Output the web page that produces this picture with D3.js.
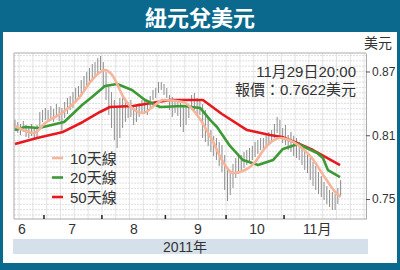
<!DOCTYPE html>
<html>
<head>
<meta charset="utf-8">
<script src="https://cdn.jsdelivr.net/npm/d3@7"></script>
<style>
  body { margin: 0; background: #fff; }
  text { font-family: "Liberation Sans", "Noto Sans CJK TC", sans-serif; }
</style>
</head>
<body>
<div id="chart"></div>
<script>
// daily high / low, trading days 16 Jun - 29 Nov 2011
var highs = [0.8244,0.8225,0.8206,0.8234,0.8197,0.8187,0.8206,0.8168,0.8197,0.8319,0.8338,
  0.8357,0.8338,0.8375,0.8347,0.8394,0.8366,0.8357,0.8413,0.8451,0.8469,0.8507,0.8545,0.8564,0.8620,0.8658,0.8695,0.8733,0.8771,0.8789,0.8827,0.8846,
  0.8789,0.8695,0.8573,0.8507,0.8432,0.8357,0.8451,0.8469,0.8451,0.8413,0.8432,0.8385,0.8394,0.8404,0.8432,0.8432,0.8413,0.8469,0.8526,0.8545,0.8601,0.8601,0.8582,
  0.8545,0.8479,0.8460,0.8432,0.8413,0.8404,0.8375,0.8366,0.8375,0.8479,0.8498,0.8451,0.8432,0.8394,0.8338,0.8262,0.8150,0.8093,0.8074,0.8037,0.8008,0.7914,
  0.7792,0.7773,0.7830,0.7886,0.7905,0.7914,0.7943,0.7961,0.7980,0.7999,0.8037,0.8055,0.8074,0.8074,0.8112,0.8131,0.8150,0.8206,0.8272,0.8244,0.8168,
  0.8197,0.8102,0.8131,0.8093,0.8074,0.8037,0.7999,0.7961,0.7933,0.7886,0.7848,0.7811,0.7754,0.7717,0.7660,0.7623,0.7585,0.7566,0.7547,0.7604,0.7679];
var lows = [0.8140,0.8121,0.8102,0.8131,0.8084,0.8074,0.8093,0.8055,0.8065,0.8187,0.8225,
  0.8244,0.8234,0.8262,0.8225,0.8272,0.8234,0.8121,0.8262,0.8300,0.8338,0.8357,0.8404,0.8441,0.8479,0.8507,0.8545,0.8582,0.8620,0.8648,0.8686,0.8714,
  0.8545,0.8432,0.8291,0.8168,0.8055,0.7980,0.8074,0.8168,0.8225,0.8262,0.8272,0.8197,0.8225,0.8272,0.8300,0.8319,0.8291,0.8338,0.8432,0.8451,0.8498,0.8526,0.8479,
  0.8451,0.8338,0.8272,0.8310,0.8281,0.8178,0.8131,0.8197,0.8262,0.8338,0.8319,0.8300,0.8291,0.8074,0.8037,0.7999,0.7943,0.7905,0.7867,0.7811,0.7754,0.7585,
  0.7481,0.7538,0.7604,0.7698,0.7735,0.7773,0.7792,0.7820,0.7848,0.7867,0.7895,0.7924,0.7961,0.7971,0.7999,0.8018,0.8046,0.8074,0.8121,0.8084,0.8027,
  0.8008,0.7961,0.7943,0.7905,0.7886,0.7867,0.7820,0.7773,0.7745,0.7679,0.7623,0.7585,0.7547,0.7519,0.7491,0.7453,0.7425,0.7397,0.7397,0.7453,0.7528];

// moving averages, read at (trading day index, value)
var ma10Idx = [0,6.9,10.9,17,23.2,27.9,32.6,35.2,39.5,41.3,46.4,50.7,53.6,60.9,66,71.8,75.4,79,83.4,87,90.6,96.1,102.6,107.6,112.4,116.7,118];
var ma10Val = [0.8187,0.8121,0.8215,0.8309,0.8451,0.8620,0.8714,0.8667,0.8451,0.8385,0.8309,0.8385,0.8432,0.8413,0.8291,0.8037,0.7848,0.7745,0.7773,0.7848,0.7980,0.8074,0.8008,0.7886,0.7698,0.7547,0.7519];
var ma20Idx = [0,3.6,8.7,17.8,24.3,27.9,32.6,37,42.4,47.1,52.6,60.9,67.1,70.7,73.2,77.9,82.6,88.1,93.5,97.1,102.6,109.5,111.6,113.4,117.8];
var ma20Val = [0.8149,0.8178,0.8168,0.8225,0.8385,0.8460,0.8564,0.8582,0.8526,0.8432,0.8366,0.8375,0.8357,0.8244,0.8178,0.7999,0.7867,0.7820,0.7867,0.7971,0.8018,0.7933,0.7886,0.7773,0.7707];
var ma50Idx = [0,8,17.4,24.6,30.8,34.4,42.8,56.2,68.1,75,84.1,92.4,96.8,102.2,108,117.8];
var ma50Val = [0.8018,0.8074,0.8131,0.8225,0.8319,0.8366,0.8375,0.8432,0.8432,0.8300,0.8149,0.8102,0.8084,0.8027,0.7961,0.7820];

var monthStartIdx = [11, 32, 55, 77, 98];
var monthLabels = ["6", "7", "8", "9", "10", "11月"];
var monthLabelIdx = [2.5, 20.7, 43.1, 66.3, 87.7, 109.5];
var yTicks = [0.75, 0.81, 0.87];
var legendNames = ["10天線", "20天線", "50天線"];
var lineColors = ["#f6b59b", "#3c9a34", "#e8191e"];

var svgwidth = 400, svgheight = 270;
var teal = "#0a698d";
var svg = d3.select("#chart").append("svg").attr("width", svgwidth).attr("height", svgheight);

// frame + title
svg.append("rect").attr("width", svgwidth).attr("height", svgheight).attr("fill", teal);
svg.append("rect").attr("x", 3).attr("y", 32).attr("width", 394).attr("height", 231).attr("fill", "#fff");
svg.append("text").attr("x", 200).attr("y", 26).attr("text-anchor", "middle")
  .attr("fill", "#fff").attr("font-size", 22).attr("font-weight", "bold")
  .style("font-family", "'Noto Sans CJK TC', sans-serif")
  .text("紐元兌美元");

var xScale = d3.scaleLinear().domain([-0.36, 127.2]).range([14, 366]);
var yScale = d3.scaleLinear().domain([0.7312, 0.8874]).range([219, 53]);

// grid
var hGrid = d3.range(0.735, 0.8876, 0.005);
svg.append("g").selectAll("line").data(hGrid).enter().append("line")
  .attr("x1", 14).attr("x2", 366)
  .attr("y1", d => yScale(d)).attr("y2", d => yScale(d))
  .attr("stroke", "#d4d4d4").attr("stroke-width", 0.8).attr("stroke-dasharray", "2,1");
var vGrid = d3.range(1.5, 127, 5);
svg.append("g").selectAll("line").data(vGrid).enter().append("line")
  .attr("x1", d => xScale(d)).attr("x2", d => xScale(d))
  .attr("y1", 53).attr("y2", 219)
  .attr("stroke", "#dcdcdc").attr("stroke-width", 0.8);

// plot border
svg.append("path").attr("d", "M14,53H366M14,53V219H366")
  .attr("fill", "none").attr("stroke", "#aaa").attr("stroke-width", 1);

// high-low bars
svg.append("g").selectAll("line").data(highs).enter().append("line")
  .attr("x1", (d, i) => xScale(i)).attr("x2", (d, i) => xScale(i))
  .attr("y1", d => yScale(d)).attr("y2", (d, i) => yScale(lows[i]))
  .attr("stroke", "#8c8c8c").attr("stroke-width", 1);

// moving averages
var maSets = [[ma50Idx, ma50Val, 2], [ma20Idx, ma20Val, 1], [ma10Idx, ma10Val, 0]];
maSets.forEach(function (s) {
  var pts = s[0].map((d, i) => [d, s[1][i]]);
  var line = d3.line().x(d => xScale(d[0])).y(d => yScale(d[1]));
  if (s[2] == 0) line.curve(d3.curveMonotoneX);
  svg.append("path").datum(pts).attr("d", line)
    .attr("fill", "none").attr("stroke", lineColors[s[2]]).attr("stroke-width", 2.6)
    .attr("stroke-linejoin", "round");
});

// right axis
var yAxis = d3.axisRight(yScale).tickValues(yTicks).tickSize(4).tickSizeOuter(0).tickFormat(d3.format(".2f"));
var ya = svg.append("g").attr("transform", "translate(366,0)").call(yAxis);
ya.select(".domain").attr("stroke", "#aaa");
ya.selectAll(".tick line").attr("stroke", "#555");
ya.selectAll(".tick text").attr("font-size", 12).attr("fill", "#333").attr("x", 6)
  .style("font-family", "'Liberation Sans', sans-serif");
svg.append("text").attr("x", 392).attr("y", 48).attr("text-anchor", "end")
  .attr("font-size", 14).attr("fill", "#333").text("美元");

// month ticks + labels
svg.append("g").selectAll("line").data(monthStartIdx).enter().append("line")
  .attr("x1", d => xScale(d - 0.5)).attr("x2", d => xScale(d - 0.5))
  .attr("y1", 215).attr("y2", 219).attr("stroke", "#222").attr("stroke-width", 1.5);
svg.append("g").selectAll("text").data(monthLabels).enter().append("text")
  .attr("x", (d, i) => xScale(monthLabelIdx[i])).attr("y", 234)
  .attr("text-anchor", "middle").attr("font-size", 14).attr("fill", "#333")
  .text(d => d);

// year band
svg.append("rect").attr("x", 13).attr("y", 239).attr("width", 355).attr("height", 15).attr("fill", "#d6e0ea");
svg.append("text").attr("x", 185).attr("y", 251.5).attr("text-anchor", "middle")
  .attr("font-size", 14).attr("fill", "#333").text("2011年");

// annotation
svg.append("text").attr("x", 356).attr("y", 77).attr("text-anchor", "end")
  .attr("font-size", 15).attr("fill", "#333").text("11月29日20:00");
svg.append("text").attr("x", 356).attr("y", 95).attr("text-anchor", "end")
  .attr("font-size", 15).attr("fill", "#333").text("報價：0.7622美元");

// legend
var lg = svg.append("g").selectAll("g").data(legendNames).enter().append("g")
  .attr("transform", (d, i) => "translate(52," + (158 + i * 19.5) + ")");
lg.append("line").attr("x1", 0).attr("x2", 11).attr("stroke", (d, i) => lineColors[i]).attr("stroke-width", 2.6);
lg.append("text").attr("x", 18).attr("y", 5.5).attr("font-size", 15).attr("fill", "#333").text(d => d);
</script>
</body>
</html>
